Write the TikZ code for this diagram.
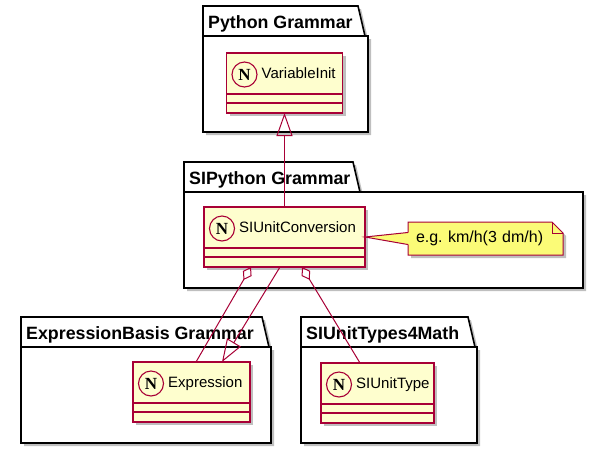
\documentclass[tikz,border=0pt]{standalone}
\usepackage{fontspec}
\setmainfont{Liberation Sans}
\newfontfamily\spotfont{Liberation Serif}
\usetikzlibrary{positioning,calc,arrows.meta,shadows}
\definecolor{umlred}{HTML}{A80036}
\definecolor{umlyellow}{HTML}{FEFECE}
\definecolor{noteyellow}{HTML}{FBFB77}
\tikzset{umlshadow/.style={drop shadow={shadow xshift=3pt, shadow yshift=-3pt,
    fill=black, opacity=.25}},
  pkg/.style={draw=black, line width=1.6pt, fill=white, umlshadow},
  pkgtitle/.style={anchor=base west, inner sep=0pt,
    font=\fontsize{17.8}{20}\selectfont\bfseries},
  cls/.style={draw=umlred, line width=1.2pt, fill=umlyellow, minimum height=60pt,
    inner sep=0pt, outer sep=0pt, umlshadow},
  clsline/.style={draw=umlred, line width=1.2pt},
  spotcircle/.style={circle, draw=umlred, line width=1.1pt, fill=umlyellow,
    minimum size=25pt, inner sep=0pt, outer sep=0pt,
    font=\spotfont\bfseries\fontsize{17}{17}\selectfont},
  clsname/.style={inner sep=0pt, font=\fontsize{15}{18}\selectfont},
  noteshape/.style={draw=umlred, line width=1pt, fill=noteyellow, umlshadow},
  notetext/.style={text width=139pt, inner xsep=8pt, inner ysep=0pt, minimum height=33pt,
    align=left, font=\fontsize{16}{19}\selectfont},
  extends/.style={draw=umlred, line width=1pt, -{Triangle[open, length=23pt, width=16pt]}},
  aggr/.style={draw=umlred, line width=1pt, {Diamond[open, length=15pt, width=10pt]}-}}

\begin{document}
\frenchspacing
\begin{tikzpicture}[x=1pt, y=-1pt]
\useasboundingbox (0,0) rectangle (599,448);
% packages
\foreach \name/\l/\t/\r/\b/\tr/\title in {pygram/203/36/368/132/358/Python Grammar,
    sipygram/184/192/583/288/353/SIPython Grammar,
    exprgram/21/347/271/443/262/ExpressionBasis Grammar,
    siunitgram/301/347/477/443/468/SIUnitTypes4Math}
{
  \draw[pkg] (\l,\t) -- (\l,\t-30) -- (\tr,\t-30) -- (\tr+7,\t) -- (\r,\t)
    -- (\r,\b) -- (\l,\b) -- cycle;
  \draw[line width=1.6pt] (\l,\t) -- (\tr+7,\t);
  \node[pkgtitle] (\name) at (\l+5,\t-8) {\title};
}
% classes
\foreach \name/\x/\y/\w/\title in {varinit/284.5/83/116/VariableInit,
    siconv/284.5/237/161/SIUnitConversion,
    expr/191.5/392/117/Expression,
    siunit/377.5/393/113/SIUnitType}
{
  \node[cls, minimum width=\w pt] (\name) at (\x,\y) {};
  \draw[clsline] ($(\name.north west)+(0,41)$) -- ($(\name.north east)+(0,41)$);
  \draw[clsline] ($(\name.north west)+(0,50)$) -- ($(\name.north east)+(0,50)$);
  \node[spotcircle] (\name-spot) at ($(\name.north west)+(18,21.5)$) {N};
  \node[clsname, right=4.5pt of \name-spot, anchor=mid west, yshift=-1.5pt]
    (\name-title) {\title};
}
% note
\coordinate (notec) at (485.5,238.5);
\filldraw[noteshape] ($(notec)+(-77.5,-16.5)$) -- ($(notec)+(66.5,-16.5)$)
  -- ($(notec)+(77.5,-5.5)$) -- ($(notec)+(77.5,16.5)$) -- ($(notec)+(-77.5,16.5)$) -- cycle;
\draw[draw=umlred, line width=1pt] ($(notec)+(66.5,-16.5)$) -- ($(notec)+(66.5,-5.5)$)
  -- ($(notec)+(77.5,-5.5)$);
\node[notetext] (note) at (notec) {e.g. km/h(3 dm/h)};
\fill[noteyellow] (siconv.east) -- ($(note.west)+(1,-6)$) -- ($(note.west)+(1,6)$) -- cycle;
\draw[draw=umlred, line width=1pt] ($(note.west)+(0,-6)$) -- (siconv.east)
  -- ($(note.west)+(0,6)$);
% relations
\draw[extends] (siconv.north) -- (varinit.south);
\draw[extends] ($(siconv.south west)+(76,0)$) -- ($(expr.north west)+(89,0)$);
\draw[aggr] ($(siconv.south west)+(47,0)$) -- ($(expr.north west)+(63,0)$);
\draw[aggr] ($(siconv.south west)+(98,0)$) -- ($(siunit.north west)+(39,0)$);
\end{tikzpicture}
\end{document}
